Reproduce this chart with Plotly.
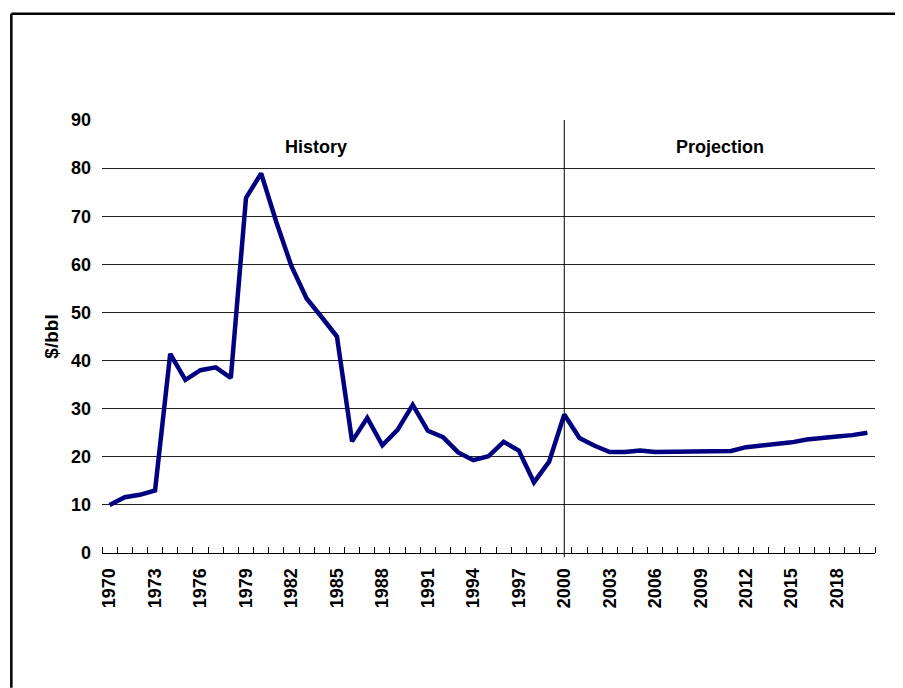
import plotly.graph_objects as go

years = list(range(1970, 2021))
prices = [10.0, 11.6, 12.1, 13.0, 41.4, 36.0, 38.0, 38.6, 36.4, 73.8,
          78.9, 68.8, 59.6, 52.9, 49.0, 45.0, 23.2, 28.1, 22.4, 25.6,
          30.8, 25.4, 24.1, 20.9, 19.3, 20.1, 23.1, 21.3, 14.7, 19.0,
          28.8, 23.9, 22.3, 21.0, 21.0, 21.3, 21.0, 21.0, 21.0, 21.0,
          21.0, 21.2, 22.0, 22.3, 22.5, 23.0, 23.6, 24.0, 24.2, 24.5, 25.0]
tick_years = list(range(1970, 2021, 3))
y_ticks = list(range(0, 91, 10))

FONT = "Liberation Sans, Arial, sans-serif"

# page has an 8px body margin; figure sized to fill the rest of the window
L, T = 93.7, 112.3
PW, PH = 773.3, 433.0
W, H = 895, 680

bx0 = (3 - L) / PW          # left border (paper units)
bx1 = (W - L) / PW          # right edge of the figure (paper units)
by1 = (T + PH - 6) / PH     # top border (paper units)
by0 = -(H - T - PH) / PH    # bottom edge of the figure (paper units)

fig = go.Figure()
fig.add_trace(go.Scatter(x=years, y=prices, mode="lines",
                         line=dict(color="#000080", width=4.5),
                         hoverinfo="x+y", showlegend=False))

fig.update_layout(
    width=W, height=H,
    margin=dict(l=L, r=W - L - PW, t=T, b=H - T - PH, autoexpand=False),
    paper_bgcolor="white", plot_bgcolor="white",
    font=dict(family=FONT, color="black"),
    xaxis=dict(range=[1969.5, 2020.5], tickvals=tick_years,
               ticktext=[str(y) for y in tick_years],
               tickangle=-90, ticks="", showgrid=False, zeroline=False,
               showline=True, linecolor="black", linewidth=1,
               tickfont=dict(family=FONT, size=18, color="black", weight="bold"),
               ticklabelstandoff=7,
               minor=dict(ticks="inside", tick0=1969.5, dtick=1, ticklen=6,
                          tickcolor="black", tickwidth=1, showgrid=False)),
    yaxis=dict(range=[0, 90], tickvals=y_ticks, ticks="", showgrid=True,
               gridcolor="#222222", gridwidth=1, zeroline=False, showline=False,
               tickfont=dict(family=FONT, size=18, color="black", weight="bold"),
               ticklabelstandoff=10,
               title=dict(text="$/bbl", standoff=7,
                          font=dict(family=FONT, size=19, color="black", weight="bold"))),
    shapes=[
        dict(type="line", xref="x", yref="paper", x0=2000, x1=2000, y0=-0.01, y1=1,
             line=dict(color="black", width=1)),
        dict(type="line", xref="paper", yref="paper", x0=bx0, x1=bx1, y0=by1, y1=by1,
             line=dict(color="black", width=2.5), layer="below"),
        dict(type="line", xref="paper", yref="paper", x0=bx0, x1=bx0, y0=by0, y1=by1,
             line=dict(color="black", width=2.5), layer="below"),
    ],
    annotations=[
        dict(text="History", x=1983.6, y=84.4, xref="x", yref="y", showarrow=False,
             font=dict(family=FONT, size=18, color="black", weight="bold")),
        dict(text="Projection", x=2010.3, y=84.4, xref="x", yref="y", showarrow=False,
             font=dict(family=FONT, size=18, color="black", weight="bold")),
    ],
)

fig.write_html("out.html")
